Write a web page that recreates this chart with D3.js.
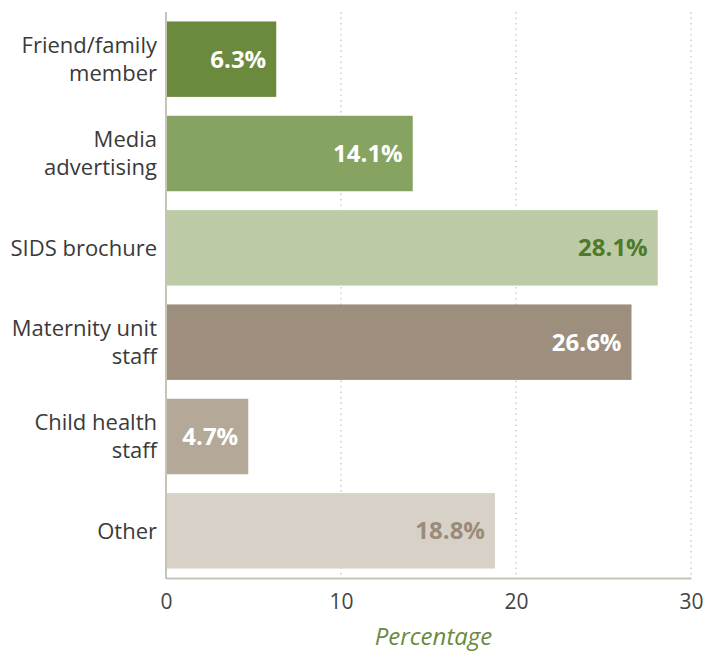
<!DOCTYPE html>
<html>
<head>
<meta charset="utf-8">
<script src="https://cdn.jsdelivr.net/npm/d3@7"></script>
<style>
  html, body { margin: 0; padding: 0; background: #fff; }
  svg { display: block; }
  text { font-family: "Open Sans", "Noto Sans", sans-serif; }
</style>
</head>
<body>
<svg id="chart" width="705" height="652"></svg>
<script>
// Source of information about SIDS (percentage of respondents)
const categories = [
  ["Friend/family", "member"],
  ["Media", "advertising"],
  ["SIDS brochure"],
  ["Maternity unit", "staff"],
  ["Child health", "staff"],
  ["Other"]
];
const values = [6.3, 14.1, 28.1, 26.6, 4.7, 18.8];
const barColors = ["#6b8a3e", "#87a362", "#bccba6", "#9d8e7e", "#b4a898", "#d8d1c7"];
const labelColors = ["#ffffff", "#ffffff", "#4f7a2a", "#ffffff", "#ffffff", "#9a8b7b"];
const xTicks = [0, 10, 20, 30];

(function () {
  const svg = d3.select("#chart");
  const plotLeft = 166, plotRight = 691, plotTop = 12, plotBottom = 578;

  const x = d3.scaleLinear().domain([0, 30]).range([plotLeft, plotRight]);
  const y = d3.scaleBand()
    .domain(d3.range(values.length))
    .range([plotTop, plotBottom])
    .paddingInner(0.2)
    .paddingOuter(0.1);

  // dotted gridlines
  svg.append("g")
    .selectAll("line")
    .data(xTicks.filter(t => t > 0))
    .join("line")
    .attr("x1", d => x(d)).attr("x2", d => x(d))
    .attr("y1", plotTop).attr("y2", plotBottom)
    .attr("stroke", "#b9b4ad")
    .attr("stroke-width", 1)
    .attr("stroke-dasharray", "1.5,4");

  // bars
  svg.append("g")
    .selectAll("rect")
    .data(values)
    .join("rect")
    .attr("x", x(0))
    .attr("y", (d, i) => y(i))
    .attr("width", d => x(d) - x(0))
    .attr("height", y.bandwidth())
    .attr("fill", (d, i) => barColors[i]);

  // value labels inside bars
  svg.append("g")
    .selectAll("text")
    .data(values)
    .join("text")
    .attr("x", d => x(d) - 10)
    .attr("y", (d, i) => y(i) + y.bandwidth() / 2)
    .attr("dy", "0.35em")
    .attr("text-anchor", "end")
    .attr("font-size", 24)
    .attr("font-weight", 700)
    .attr("fill", (d, i) => labelColors[i])
    .text(d => d.toFixed(1) + "%");

  // category labels
  const lineH = 28;
  const catG = svg.append("g");
  categories.forEach((lines, i) => {
    const cy = y(i) + y.bandwidth() / 2;
    const t = catG.append("text")
      .attr("text-anchor", "end")
      .attr("font-size", 22)
      .attr("fill", "#3a3a3a");
    lines.forEach((ln, j) => {
      t.append("tspan")
        .attr("x", plotLeft - 9)
        .attr("y", cy + (j - (lines.length - 1) / 2) * lineH)
        .attr("dy", "0.35em")
        .text(ln);
    });
  });

  // axes
  const xAxis = d3.axisBottom(x).tickValues(xTicks).tickSize(0).tickPadding(16);
  const gx = svg.append("g")
    .attr("transform", `translate(0,${plotBottom})`)
    .call(xAxis);
  gx.select(".domain").attr("stroke", "#c9c2b8").attr("stroke-width", 2);
  gx.selectAll("text")
    .attr("font-size", 21)
    .attr("fill", "#444")
    .attr("font-family", "'Open Sans', 'Noto Sans', sans-serif");

  svg.append("line")
    .attr("x1", plotLeft).attr("x2", plotLeft)
    .attr("y1", plotTop).attr("y2", plotBottom + 1)
    .attr("stroke", "#c9c2b8")
    .attr("stroke-width", 2);

  svg.append("text")
    .attr("x", (plotLeft + plotRight) / 2 + 5)
    .attr("y", 645)
    .attr("text-anchor", "middle")
    .attr("font-size", 24)
    .attr("font-style", "italic")
    .attr("fill", "#6b8a3e")
    .text("Percentage");
})();
</script>
</body>
</html>
